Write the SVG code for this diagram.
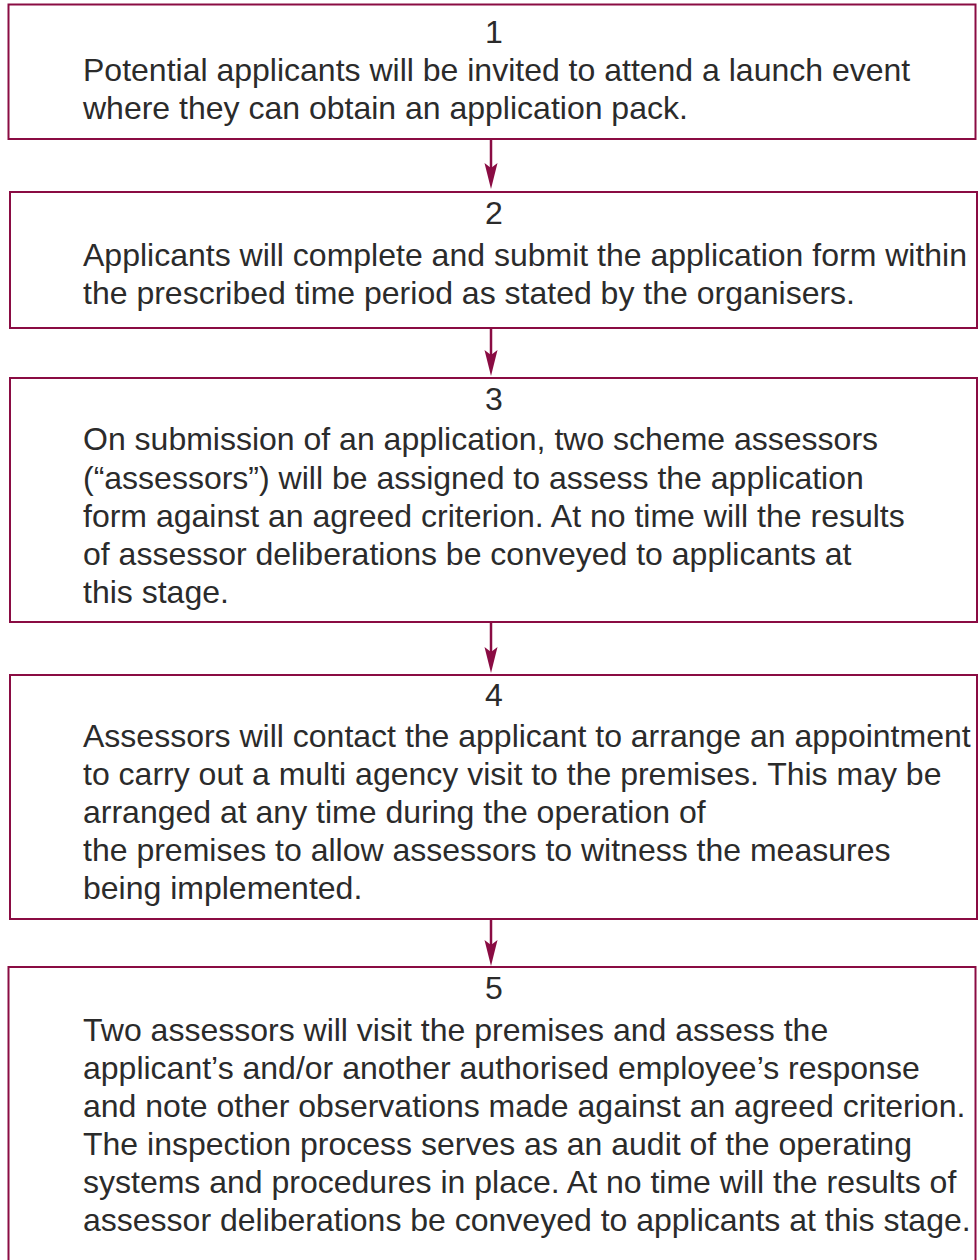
<svg xmlns="http://www.w3.org/2000/svg" width="980" height="1260" viewBox="0 0 980 1260">
  <style>
    .box { fill: #ffffff; stroke: #8a0c43; stroke-width: 2; }
    .num { font-family: "Liberation Sans", Arial, sans-serif; font-size: 32px; fill: #2b2b2b; text-anchor: middle; }
    .txt { font-family: "Liberation Sans", Arial, sans-serif; font-size: 32px; fill: #2b2b2b; }
    .link { stroke: #8a0c43; stroke-width: 2.5; fill: none; }
    .head { fill: #8a0c43; }
  </style>
  <defs>
    <!-- slim arrowhead, tip at origin pointing down -->
    <path id="arrowhead" class="head" d="M0,0 L-6.5,-26 L0,-21 L6.5,-26 Z"/>
  </defs>
  <rect width="980" height="1260" fill="#ffffff"/>

  <g id="step1">
    <rect class="box" x="8.5" y="4.5" width="967" height="134.5"/>
    <text class="num" x="494" y="43">1</text>
    <text class="txt" x="83" y="81">Potential applicants will be invited to attend a launch event</text>
    <text class="txt" x="83" y="119">where they can obtain an application pack.</text>
  </g>

  <g id="step2">
    <rect class="box" x="10" y="192" width="967" height="136"/>
    <text class="num" x="494" y="224">2</text>
    <text class="txt" x="83" y="266">Applicants will complete and submit the application form within</text>
    <text class="txt" x="83" y="304">the prescribed time period as stated by the organisers.</text>
  </g>

  <g id="step3">
    <rect class="box" x="10" y="378" width="967" height="244"/>
    <text class="num" x="494" y="410">3</text>
    <text class="txt" x="83" y="450">On submission of an application, two scheme assessors</text>
    <text class="txt" x="83" y="489">(“assessors”) will be assigned to assess the application</text>
    <text class="txt" x="83" y="527">form against an agreed criterion. At no time will the results</text>
    <text class="txt" x="83" y="565">of assessor deliberations be conveyed to applicants at</text>
    <text class="txt" x="83" y="603">this stage.</text>
  </g>

  <g id="step4">
    <rect class="box" x="10" y="675" width="967" height="244"/>
    <text class="num" x="494" y="706">4</text>
    <text class="txt" x="83" y="747">Assessors will contact the applicant to arrange an appointment</text>
    <text class="txt" x="83" y="785">to carry out a multi agency visit to the premises. This may be</text>
    <text class="txt" x="83" y="823">arranged at any time during the operation of</text>
    <text class="txt" x="83" y="861">the premises to allow assessors to witness the measures</text>
    <text class="txt" x="83" y="899">being implemented.</text>
  </g>

  <g id="step5">
    <rect class="box" x="8.5" y="967" width="967" height="300"/>
    <text class="num" x="494" y="999">5</text>
    <text class="txt" x="83" y="1041">Two assessors will visit the premises and assess the</text>
    <text class="txt" x="83" y="1079">applicant’s and/or another authorised employee’s response</text>
    <text class="txt" x="83" y="1117">and note other observations made against an agreed criterion.</text>
    <text class="txt" x="83" y="1155">The inspection process serves as an audit of the operating</text>
    <text class="txt" x="83" y="1193">systems and procedures in place. At no time will the results of</text>
    <text class="txt" x="83" y="1231">assessor deliberations be conveyed to applicants at this stage.</text>
  </g>

  <g id="connectors">
    <line class="link" x1="491" y1="140" x2="491" y2="170"/>
    <use href="#arrowhead" x="491" y="189"/>
    <line class="link" x1="491" y1="329" x2="491" y2="357"/>
    <use href="#arrowhead" x="491" y="376"/>
    <line class="link" x1="491" y1="623" x2="491" y2="654"/>
    <use href="#arrowhead" x="491" y="673"/>
    <line class="link" x1="491" y1="920" x2="491" y2="947"/>
    <use href="#arrowhead" x="491" y="966"/>
  </g>
</svg>
